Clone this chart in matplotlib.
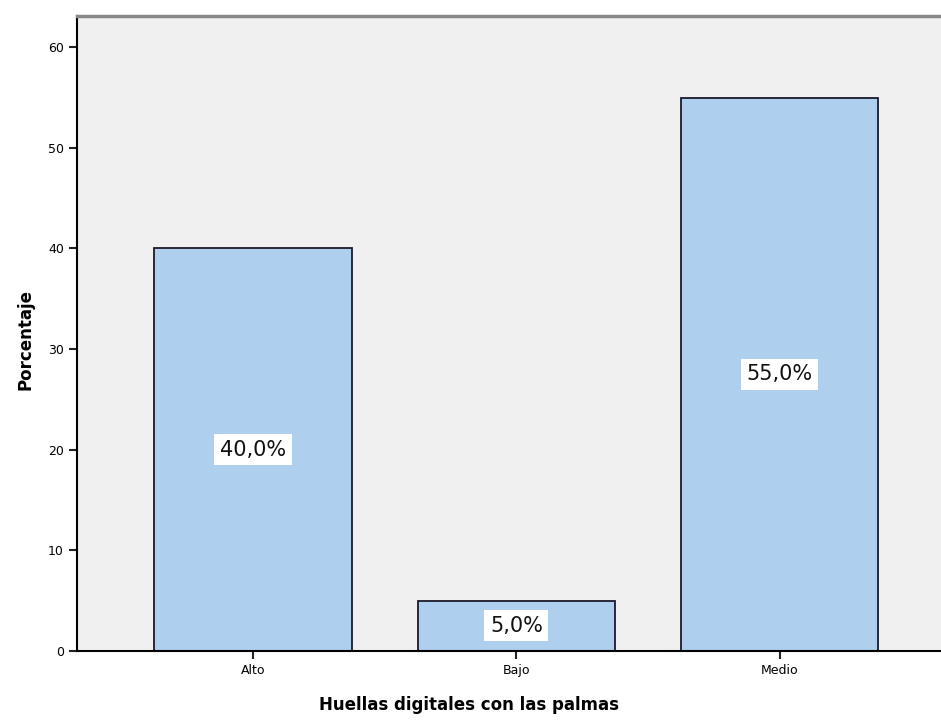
import matplotlib.pyplot as plt

categories = ['Alto', 'Bajo', 'Medio']
percentages = [40.0, 5.0, 55.0]
bar_labels = ['40,0%', '5,0%', '55,0%']
y_ticks = [0, 10, 20, 30, 40, 50, 60]

fig = plt.figure(figsize=(9.41, 7.22), dpi=100)
ax = fig.add_axes([77 / 941, 1 - 651 / 722, 1 - 77 / 941 + 0.002, (651 - 16) / 722])
ax.set_facecolor('#f0f0f0')

x = range(len(categories))
ax.bar(x, percentages, width=0.75, color='#aecfee', edgecolor='#1a1a2a', linewidth=1.3)

for i, (val, lab) in enumerate(zip(percentages, bar_labels)):
    ax.text(i, val / 2, lab, ha='center', va='center', fontsize=15, color='#111111',
            bbox=dict(facecolor='white', edgecolor='none', pad=4))

ax.set_xlim(-0.669, 2.62)
ax.set_ylim(0, 63.1)
ax.set_xticks(list(x))
ax.set_xticklabels(categories, fontsize=9)
ax.set_yticks(y_ticks)
ax.set_yticklabels([str(t) for t in y_ticks], fontsize=9)
ax.tick_params(length=6, width=1.5, direction='out', color='#222222')

ax.spines['right'].set_visible(False)
ax.spines['top'].set_color('#888888')
ax.spines['top'].set_linewidth(2.5)
ax.spines['left'].set_linewidth(1.5)
ax.spines['bottom'].set_linewidth(1.5)

fig.text(25 / 941, 1 - 340 / 722, 'Porcentaje', rotation=90, ha='center', va='center',
         fontsize=12, fontweight='bold')
fig.text(469 / 941, 1 - 705 / 722, 'Huellas digitales con las palmas', ha='center', va='center',
         fontsize=12, fontweight='bold')

fig.savefig('out.png', dpi=100, facecolor='white')
